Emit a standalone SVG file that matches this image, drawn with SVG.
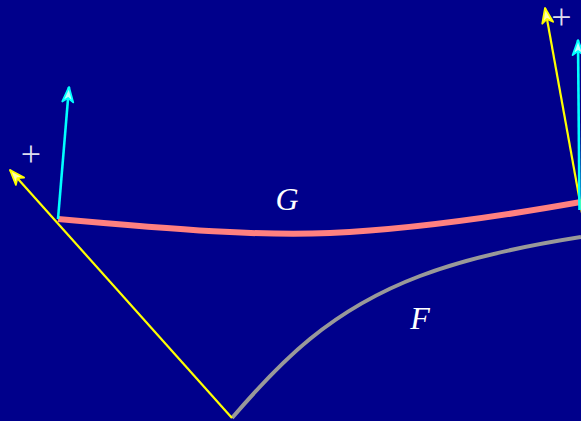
<svg xmlns="http://www.w3.org/2000/svg" width="581" height="421" viewBox="0 0 581 421">
<defs>
<style>
.bg{fill:#00008B}
.yel{stroke:#FFFF00;stroke-width:2.2;fill:none}
.cya{stroke:#00FFFF;stroke-width:2.6;fill:none}
.lbl{font-family:"Liberation Serif","Times New Roman",serif;font-style:italic;font-size:32px;fill:#FFFFFF}
.plus{font-family:"Liberation Serif","Times New Roman",serif;font-size:36px;fill:#DDDDEE;text-anchor:middle}
</style>
<marker id="ay" viewBox="-17 -8 18 16" markerWidth="18" markerHeight="16" refX="0" refY="0" orient="auto" markerUnits="userSpaceOnUse">
<path d="M0,0 L-15,-5.5 L-11,0 L-15,5.5 Z" fill="#FFFFB0" stroke="#FFFF00" stroke-width="1.8" stroke-linejoin="round"/>
</marker>
<marker id="ac" viewBox="-17 -8 18 16" markerWidth="18" markerHeight="16" refX="0" refY="0" orient="auto" markerUnits="userSpaceOnUse">
<path d="M0,0 L-15,-5.5 L-11,0 L-15,5.5 Z" fill="#C0FFFF" stroke="#00FFFF" stroke-width="1.8" stroke-linejoin="round"/>
</marker>
</defs>
<rect class="bg" x="0" y="0" width="581" height="421"/>
<g id="curve-F">
<path d="M232,418 C280,362 330,310 420,276 C470,257 530,245 581,237" fill="none" stroke="#999999" stroke-width="4"/>
<text class="lbl" x="420" y="329" text-anchor="middle">F</text>
</g>
<g id="curve-G">
<path d="M58,219 C180,230 260,236 330,233 S480,220 581,202" fill="none" stroke="#FF8080" stroke-width="6"/>
<text class="lbl" x="287" y="210" text-anchor="middle">G</text>
</g>
<g id="connectors">
<line class="yel" x1="232" y1="418" x2="10" y2="170" marker-end="url(#ay)"/>
<line class="cya" x1="58" y1="219" x2="69" y2="87" marker-end="url(#ac)"/>
<line class="yel" x1="582" y1="213" x2="545" y2="8" marker-end="url(#ay)"/>
<line class="cya" x1="579.5" y1="210" x2="578" y2="40" marker-end="url(#ac)"/>
</g>
<g id="plus-left"><text class="plus" x="31" y="165.5">+</text></g>
<g id="plus-right"><text class="plus" x="561.5" y="28.5">+</text></g>
</svg>
